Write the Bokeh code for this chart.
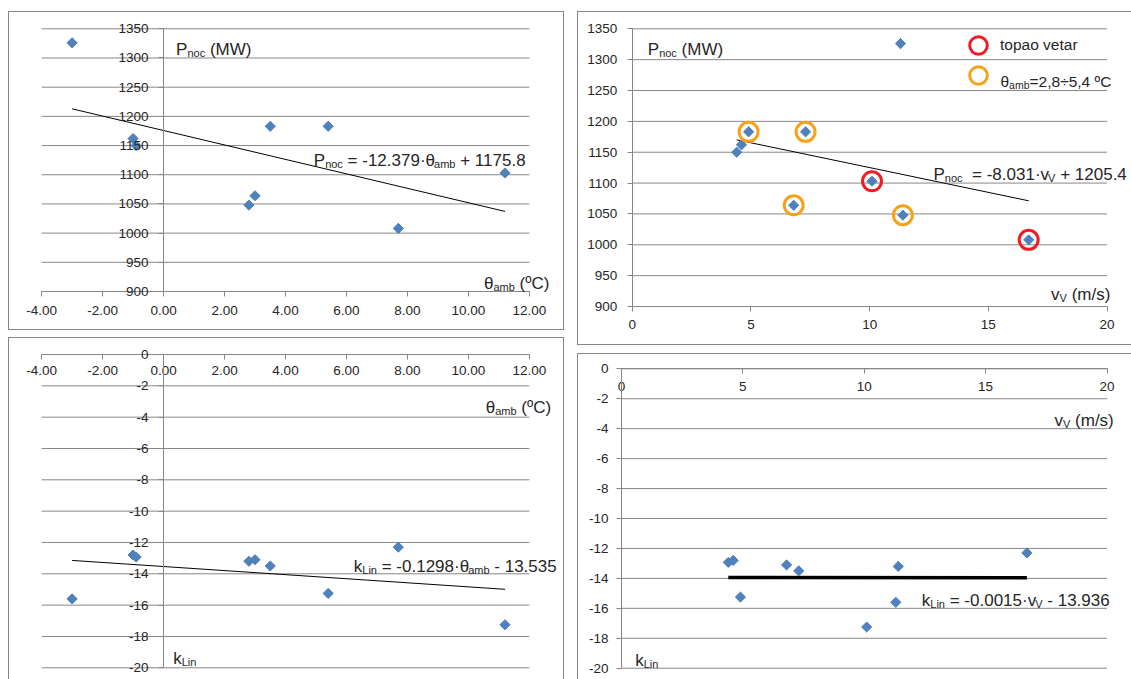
import numpy as np
from bokeh.plotting import figure
from bokeh.models import (FixedTicker, NumeralTickFormatter, Label, Legend, LegendItem,
                          Spacer, Range1d)
from bokeh.layouts import row, column
from bokeh.embed import file_html
from bokeh.resources import INLINE

# ---------------- data ----------------
theta_amb = [-3.0, -1.0, -0.9, 3.5, 5.4, 2.8, 3.0, 7.7, 11.2]          # ºC
v_wind    = [11.3, 4.6, 4.4, 7.3, 4.9, 11.4, 6.8, 16.7, 10.1]           # m/s
p_noc     = [1326, 1162, 1150, 1183, 1183, 1048, 1064, 1008, 1103]      # MW
k_lin     = [-15.6, -12.8, -12.93, -13.5, -15.25, -13.2, -13.1, -12.3, -17.25]
warm_wind = [False, False, False, False, False, False, False, True, True]   # "topao vetar"
theta_band = [2.8, 5.4]

fit_p_theta = [-12.379, 1175.8]
fit_p_v     = [-8.031, 1205.4]
fit_k_theta = [-0.1298, -13.535]
fit_k_v     = [-0.0015, -13.936]

theta_ticks = [-4, -2, 0, 2, 4, 6, 8, 10, 12]
v_ticks     = [0, 5, 10, 15, 20]
p_ticks     = [900, 950, 1000, 1050, 1100, 1150, 1200, 1250, 1300, 1350]
k_ticks     = [0, -2, -4, -6, -8, -10, -12, -14, -16, -18, -20]

# ---------------- style ----------------
FONT = "Liberation Sans"
GRID = "#878787"
TXT = "#262626"
BLUE = "#4F81BD"
RED = "#EE1C25"
ORANGE = "#F7A11A"
SUB = 11

# Arial / Liberation Sans advance widths (em)
W = {' ': 0.278, '(': 0.333, ')': 0.333, '+': 0.584, ',': 0.278, '-': 0.333, '.': 0.278,
     '/': 0.278, '=': 0.584, 'C': 0.722, 'L': 0.556, 'M': 0.833, 'P': 0.667, 'V': 0.667,
     'W': 0.944, 'a': 0.556, 'b': 0.556, 'c': 0.5, 'e': 0.556, 'i': 0.222, 'k': 0.5,
     'm': 0.833, 'n': 0.556, 'o': 0.556, 'p': 0.556, 'r': 0.333, 's': 0.5, 't': 0.278,
     'v': 0.5, '·': 0.278, 'θ': 0.556, 'º': 0.365, '÷': 0.584}


def tw(s, size):
    return sum(W.get(c, 0.556) for c in s) * size


class Panel:
    """A chart whose frame is the whole figure; data<->pixel given by two anchors per axis."""
    def __init__(self, box, xa, ya, shadow):
        ox, oy, w, h = box
        (dx0, px0), (dx1, px1) = xa
        (dy0, py0), (dy1, py1) = ya
        self.ox, self.oy, self.w, self.h = ox, oy, w, h
        self.dx0, self.px0, self.sx = dx0, px0, (dx1 - dx0) / (px1 - px0)
        self.dy0, self.py0, self.sy = dy0, py0, (dy1 - dy0) / (py1 - py0)
        xr = (self.fx(ox), self.fx(ox + w))
        yr = (self.fy(oy + h), self.fy(oy))
        p = figure(width=w, height=h, x_range=Range1d(*xr), y_range=Range1d(*yr),
                   output_backend="svg", toolbar_location=None, title=None,
                   min_border_left=0, min_border_right=0,
                   min_border_top=0, min_border_bottom=0)
        p.outline_line_color = None
        p.border_fill_color = None
        p.background_fill_color = None
        p.styles = {"box-shadow": shadow, "background-color": "white"}
        p.xgrid.visible = False
        p.ygrid.visible = False
        self.p = p

    def fx(self, px):
        return self.dx0 + (px - self.px0) * self.sx

    def fy(self, py):
        return self.dy0 + (py - self.py0) * self.sy


def cfg_axis(ax, ticks, fmt, loc, standoff, tick_out=5):
    ax.ticker = FixedTicker(ticks=ticks)
    ax.formatter = NumeralTickFormatter(format=fmt)
    ax.fixed_location = loc
    ax.bounds = (min(ticks), max(ticks))
    ax.axis_line_color = GRID
    ax.major_tick_line_color = GRID
    ax.major_tick_in = 0
    ax.major_tick_out = tick_out
    ax.minor_tick_line_color = None
    ax.major_label_text_font = FONT
    ax.major_label_text_font_size = "13.5px"
    ax.major_label_text_color = TXT
    ax.major_label_standoff = standoff


def hgrid(p, xticks, yticks):
    n = len(yticks)
    p.segment(x0=[min(xticks)] * n, x1=[max(xticks)] * n, y0=yticks, y1=yticks,
              line_color=GRID, line_width=1)


def rich(g, x0, base, segs, main=17, sub=SUB):
    x = x0
    for txt, is_sub in segs:
        size = sub if is_sub else main
        core = txt.strip(' ')
        lead = len(txt) - len(txt.lstrip(' '))
        trail = len(txt) - len(txt.rstrip(' '))
        x += lead * W[' '] * size
        yb = base + (3.5 if is_sub else 0)
        g.p.add_layout(Label(x=g.fx(x), y=g.fy(yb), text=core, text_font=FONT,
                             text_font_size=f"{size}px", text_color=TXT,
                             text_align="left", text_baseline="alphabetic"))
        x += tw(core, size) + trail * W[' '] * size


def diamonds(p, xs, ys):
    p.scatter(xs, ys, marker="square", angle=np.pi / 4, size=7.2,
              fill_color=BLUE, line_color=BLUE, line_width=1)


def trend(p, xs, fit, width):
    xl = [min(xs), max(xs)]
    yl = [fit[0] * x + fit[1] for x in xl]
    p.line(xl, yl, line_color="black", line_width=width)


# ---------------- panels ----------------
SH_ALL = "inset 0 0 0 1px #878787"
SH_TLR = "inset 1px 1px 0 0 #878787, inset -1px 0 0 0 #878787"
SH_TLB = "inset 1px 1px 0 0 #878787, inset 0 -1px 0 0 #878787"
SH_TL = "inset 1px 1px 0 0 #878787"

TL = Panel((8, 11, 556, 319), ((-4, 41.1), (12, 528.9)), ((1350, 28.3), (900, 291.0)), SH_ALL)
TR = Panel((577, 11, 554, 334), ((0, 631.8), (20, 1106.5)), ((1350, 28.3), (900, 306.0)), SH_TLB)
BL = Panel((8, 337, 556, 342), ((-4, 41.1), (12, 528.9)), ((0, 354.0), (-20, 667.3)), SH_TLR)
BR = Panel((577, 353, 554, 326), ((0, 621.0), (20, 1106.5)), ((0, 368.3), (-20, 667.7)), SH_TL)

# Top-left: P_noc vs theta
p = TL.p
hgrid(p, theta_ticks, p_ticks)
cfg_axis(p.xaxis[0], theta_ticks, "0.00", 900, 9)
cfg_axis(p.yaxis[0], p_ticks, "0", 0, 10)
trend(p, theta_amb, fit_p_theta, 1)
diamonds(p, theta_amb, p_noc)
rich(TL, 175.6, 49, [("P", 0), ("noc", 1), (" (MW)", 0)])
rich(TL, 313.3, 160, [("P", 0), ("noc", 1), (" = -12.379·θ", 0), ("amb", 1), (" + 1175.8", 0)])
rich(TL, 483.5, 283, [("θ", 0), ("amb", 1), (" (ºC)", 0)])

# Top-right: P_noc vs wind speed
p = TR.p
hgrid(p, v_ticks, p_ticks)
cfg_axis(p.xaxis[0], v_ticks, "0", 900, 8)
cfg_axis(p.yaxis[0], p_ticks, "0", 0, 10)
trend(p, v_wind, fit_p_v, 1)
diamonds(p, v_wind, p_noc)
org_v = [v for v, t in zip(v_wind, theta_amb) if theta_band[0] <= t <= theta_band[1]]
org_p = [q for q, t in zip(p_noc, theta_amb) if theta_band[0] <= t <= theta_band[1]]
red_v = [v for v, w in zip(v_wind, warm_wind) if w]
red_p = [q for q, w in zip(p_noc, warm_wind) if w]
r_red = p.scatter(red_v, red_p, marker="circle", size=19, fill_color=None,
                  line_color=RED, line_width=3)
r_org = p.scatter(org_v, org_p, marker="circle", size=19, fill_color=None,
                  line_color=ORANGE, line_width=3)


def ring_legend(g, r, label, cx, cy):
    gs = 44
    loc = (cx - gs / 2 - g.ox, (g.oy + g.h) - (cy + gs / 2))
    leg = Legend(items=[LegendItem(label=label, renderers=[r])], location=loc,
                 orientation="vertical", padding=0, margin=0, spacing=0,
                 glyph_width=gs, glyph_height=gs, label_standoff=0, label_height=gs,
                 border_line_color=None, background_fill_alpha=0,
                 label_text_font=FONT, label_text_font_size="15.5px",
                 label_text_color=TXT)
    g.p.add_layout(leg)


ring_legend(TR, r_red, "topao vetar", 978, 45)
ring_legend(TR, r_org, "", 978, 75)
rich(TR, 1000, 81, [("θ", 0), ("amb", 1), ("=2,8÷5,4 ºC", 0)], main=15.5, sub=10.5)
rich(TR, 647.3, 49, [("P", 0), ("noc", 1), (" (MW)", 0)])
rich(TR, 933, 174, [("P", 0), ("noc", 1), ("  = -8.031·v", 0), ("V", 1), (" + 1205.4", 0)])
rich(TR, 1050.6, 294, [("v", 0), ("V", 1), (" (m/s)", 0)])

# Bottom-left: k_Lin vs theta
p = BL.p
hgrid(p, theta_ticks, k_ticks)
cfg_axis(p.xaxis[0], theta_ticks, "0.00", 0, 6)
cfg_axis(p.yaxis[0], k_ticks, "0", 0, 10)
trend(p, theta_amb, fit_k_theta, 1)
diamonds(p, theta_amb, k_lin)
rich(BL, 485.3, 407, [("θ", 0), ("amb", 1), (" (ºC)", 0)])
rich(BL, 172.7, 658, [("k", 0), ("Lin", 1)])
rich(BL, 353.3, 566, [("k", 0), ("Lin", 1), (" = -0.1298·θ", 0), ("amb", 1), (" - 13.535", 0)])

# Bottom-right: k_Lin vs wind speed
p = BR.p
hgrid(p, v_ticks, k_ticks)
cfg_axis(p.xaxis[0], v_ticks, "0", 0, 8)
cfg_axis(p.yaxis[0], k_ticks, "0", 0, 8)
trend(p, v_wind, fit_k_v, 3.5)
diamonds(p, v_wind, k_lin)
rich(BR, 1054, 420, [("v", 0), ("V", 1), (" (m/s)", 0)])
rich(BR, 634.7, 660, [("k", 0), ("Lin", 1)])
rich(BR, 921.3, 600, [("k", 0), ("Lin", 1), (" = -0.0015·v", 0), ("V", 1), (" - 13.936", 0)])

layout = row(
    Spacer(width=8, height=679),
    column(Spacer(width=556, height=11), TL.p, Spacer(width=556, height=7), BL.p),
    Spacer(width=13, height=679),
    column(Spacer(width=554, height=11), TR.p, Spacer(width=554, height=8), BR.p),
)

open("out.html", "w").write(file_html(layout, INLINE))
